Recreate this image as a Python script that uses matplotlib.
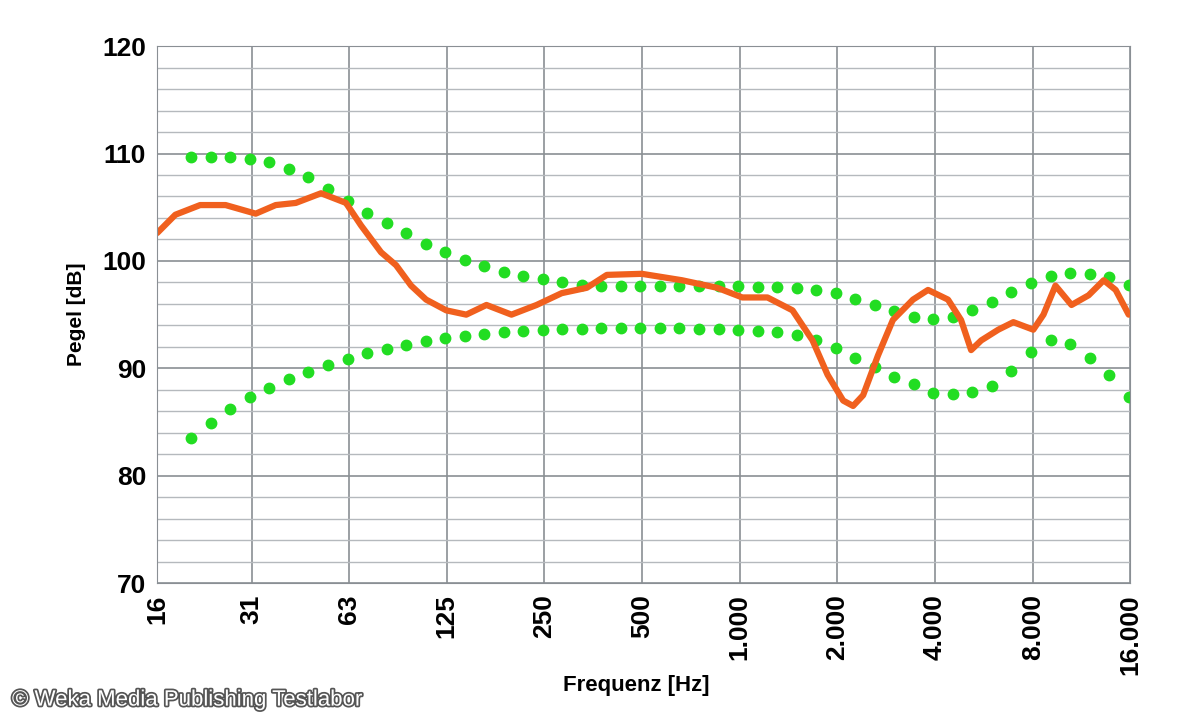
import matplotlib
matplotlib.use("Agg")
import matplotlib.pyplot as plt
import matplotlib.patheffects as pe

plt.rcParams["font.family"] = "Liberation Sans"

tick_freqs = [16, 31.25, 62.5, 125, 250, 500, 1000, 2000, 4000, 8000, 16000]
tick_labels = ["16", "31", "63", "125", "250", "500", "1.000", "2.000", "4.000", "8.000", "16.000"]

resp_freq = [16, 18.2, 21.7, 26.0, 32.2, 37.1, 42.8, 51.2, 61.1, 68.0, 78.4, 87.2, 97.0, 107.9,
             124.5, 143.5, 165.6, 197.8, 236.4, 282.5, 337.6, 389.2, 499, 664, 852, 1018, 1217,
             1454, 1676, 1865, 2083, 2235, 2400, 2667, 2964, 3419, 3804, 4384, 4810, 5166, 5549,
             6264, 6971, 8032, 8632, 9399, 10535, 11891, 13238, 14413, 15810]
resp_db = [102.6, 104.3, 105.2, 105.2, 104.4, 105.2, 105.4, 106.3, 105.4, 103.3, 100.8, 99.6,
           97.7, 96.4, 95.4, 95.0, 95.9, 95.0, 95.9, 97.0, 97.5, 98.7, 98.8, 98.2, 97.5, 96.6,
           96.6, 95.4, 92.6, 89.4, 87.0, 86.5, 87.5, 91.2, 94.5, 96.4, 97.3, 96.4, 94.5, 91.7,
           92.6, 93.6, 94.3, 93.6, 95.0, 97.7, 95.9, 96.8, 98.2, 97.3, 95.0]

tol_freq = [20.4, 23.4, 26.9, 30.9, 35.5, 40.8, 46.8, 53.8, 61.8, 71.0, 81.5, 93.6, 107.5, 123.5,
            141.9, 163.0, 187.2, 215.0, 247.0, 283.7, 325.9, 374.3, 430.0, 493.9, 567.3, 651.7,
            748.6, 859.9, 987.8, 1134.7, 1303.4, 1497.2, 1719.8, 1975.5, 2269.3, 2606.7, 2994.3,
            3439.5, 3950.9, 4538.4, 5213.3, 5988.5, 6878.9, 7901.8, 9076.7, 10426.3, 11976.7,
            13757.5, 15803.1]
upper_db = [109.7, 109.7, 109.7, 109.5, 109.2, 108.6, 107.8, 106.7, 105.6, 104.5, 103.5, 102.6,
            101.6, 100.8, 100.1, 99.5, 99.0, 98.6, 98.3, 98.0, 97.8, 97.7, 97.7, 97.7, 97.7, 97.7,
            97.7, 97.7, 97.7, 97.6, 97.6, 97.5, 97.3, 97.0, 96.5, 95.9, 95.3, 94.8, 94.6, 94.8,
            95.4, 96.2, 97.1, 97.9, 98.6, 98.9, 98.8, 98.5, 97.8]
lower_db = [83.5, 84.9, 86.2, 87.3, 88.2, 89.0, 89.7, 90.3, 90.9, 91.4, 91.8, 92.2, 92.5, 92.8,
            93.0, 93.2, 93.4, 93.5, 93.6, 93.7, 93.7, 93.8, 93.8, 93.8, 93.8, 93.8, 93.7, 93.7,
            93.6, 93.5, 93.4, 93.1, 92.6, 91.9, 91.0, 90.1, 89.2, 88.5, 87.7, 87.6, 87.8, 88.4,
            89.8, 91.5, 92.6, 92.3, 91.0, 89.4, 87.3]

fig = plt.figure(figsize=(12, 7.2), dpi=100)
ax = fig.add_axes([0.131, 0.190, 0.811, 0.746])
ax.set_xscale("log", base=2)
ax.set_xlim(16, 16000)
ax.set_ylim(70, 120)
ax.set_yticks(range(70, 121, 10))
ax.set_yticks(range(70, 121, 2), minor=True)
ax.set_xticks(tick_freqs)
ax.set_xticklabels(tick_labels, rotation=90, fontsize=19, fontweight="bold")
ax.xaxis.set_minor_locator(matplotlib.ticker.NullLocator())
for lab in ax.get_yticklabels():
    lab.set_fontsize(19); lab.set_fontweight("bold")
ax.grid(True, which="major", color="#8a8f94", lw=1.2)
ax.grid(True, which="minor", axis="y", color="#b5b9bd", lw=1.0)
ax.tick_params(which="both", length=0, pad=8)
for s in ax.spines.values():
    s.set_color("#8a8f94")
ax.set_axisbelow(True)

ax.plot(tol_freq, upper_db, ls="none", marker="o", ms=7.5, color="#22dd22")
ax.plot(tol_freq, lower_db, ls="none", marker="o", ms=7.5, color="#22dd22")
ax.plot(resp_freq, resp_db, color="#f0601e", lw=4.5, solid_capstyle="round", solid_joinstyle="round")

ax.set_ylabel("Pegel [dB]", fontsize=15, fontweight="bold", labelpad=12)
fig.text(0.53, 0.04, "Frequenz [Hz]", fontsize=16, fontweight="bold", ha="center")
fig.text(0.01, 0.02, "© Weka Media Publishing Testlabor", fontsize=16, color="white",
         path_effects=[pe.withStroke(linewidth=2.5, foreground="#555555")])
fig.savefig("out.png")
